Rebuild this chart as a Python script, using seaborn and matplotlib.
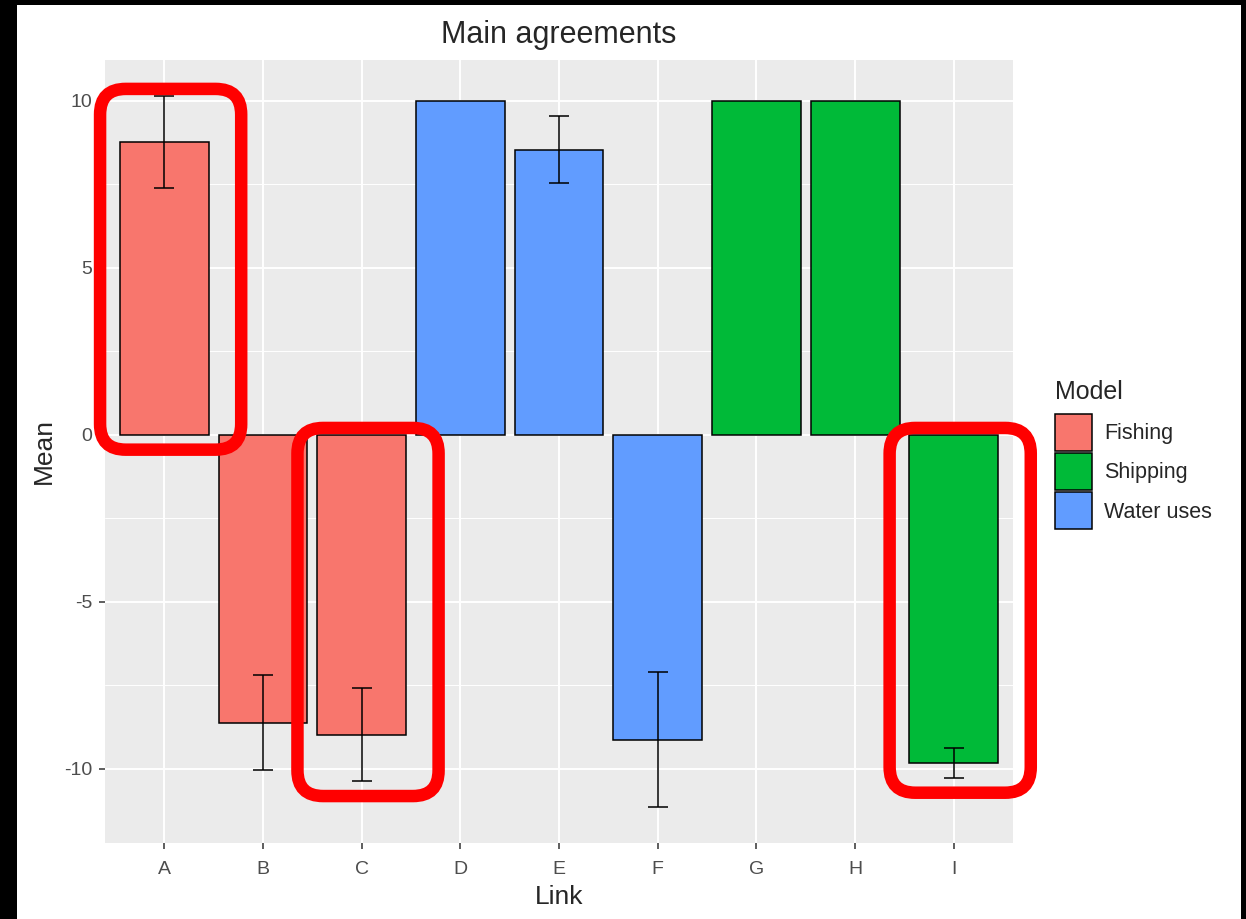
import numpy as np
import pandas as pd
import seaborn as sns
import matplotlib.pyplot as plt
from matplotlib.patches import Patch, FancyBboxPatch, Rectangle
from matplotlib.ticker import MultipleLocator

sns.set_style("darkgrid", {"axes.facecolor": "#EBEBEB", "grid.color": "white"})
plt.rcParams['font.family'] = ['Liberation Sans', 'DejaVu Sans']
plt.rcParams['axes.unicode_minus'] = False

# data
links = ["A", "B", "C", "D", "E", "F", "G", "H", "I"]
models = ["Fishing", "Fishing", "Fishing", "Water uses", "Water uses", "Water uses",
          "Shipping", "Shipping", "Shipping"]
means = [8.77, -8.62, -8.98, 10.0, 8.53, -9.13, 10.0, 10.0, -9.82]
errs = [1.38, 1.41, 1.39, np.nan, 1.0, 2.03, np.nan, np.nan, 0.45]
model_order = ["Fishing", "Shipping", "Water uses"]
colors = ["#F8766D", "#00BA38", "#619CFF"]
highlight = ["A", "C", "I"]

df = pd.DataFrame({"Link": links, "Model": models, "Mean": means, "err": errs})

fig = plt.figure(figsize=(12.46, 9.19), dpi=100, facecolor="black")
# white canvas inside the black screenshot border
fig.patches.append(Rectangle((17 / 1246, 0), (1241 - 17) / 1246, (919 - 5) / 919,
                             transform=fig.transFigure, facecolor="white",
                             edgecolor="none", zorder=-10))
ax = fig.add_axes([105 / 1246, 76 / 919, 908 / 1246, 783 / 919])

sns.barplot(data=df, x="Link", y="Mean", hue="Model", hue_order=model_order,
            palette=colors, dodge=False, width=0.9, edgecolor="black",
            linewidth=1.1, saturation=1, legend=False, ax=ax)

# error bars
pos = np.arange(len(links))
ok = df["err"].notna().values
ax.errorbar(pos[ok], df["Mean"][ok], yerr=df["err"][ok], fmt="none",
            ecolor="black", elinewidth=1.1, capsize=7, capthick=1.1, zorder=5)

ax.set_xlim(-0.6, len(links) - 0.4)
lo = np.nanmin(df["Mean"] - df["err"].fillna(0))
hi = np.nanmax(df["Mean"] + df["err"].fillna(0))
pad = (hi - lo) * 0.05
ax.set_ylim(lo - pad, hi + pad)

ax.yaxis.set_major_locator(MultipleLocator(5))
ax.yaxis.set_minor_locator(MultipleLocator(2.5))
ax.grid(which="major", color="white", linewidth=1.4)
ax.grid(which="minor", axis="y", color="white", linewidth=0.7)
ax.set_axisbelow(True)
for s in ax.spines.values():
    s.set_visible(False)
ax.tick_params(axis="both", which="major", bottom=True, left=True, length=4, width=1.1,
               color="#333333", labelsize=14, labelcolor="#4D4D4D", pad=5)
ax.tick_params(axis="x", which="major", pad=9)
ax.tick_params(axis="y", which="minor", length=0)
ax.set_xlabel("Link", fontsize=19, labelpad=5)
ax.set_ylabel("Mean", fontsize=19, labelpad=6)
ax.set_title("Main agreements", fontsize=22, pad=12)

# red highlight boxes
for name in highlight:
    i = links.index(name)
    m = df["Mean"][i]
    e = 0 if np.isnan(df["err"][i]) else df["err"][i]
    y0 = min(0, m - e) - 0.45
    y1 = max(0, m + e) + 0.2
    box = FancyBboxPatch((i - 0.65, y0), 1.43, y1 - y0,
                         boxstyle="round,pad=0,rounding_size=0.26",
                         mutation_aspect=2.95, facecolor="none",
                         edgecolor="#FF0000", linewidth=9, clip_on=False, zorder=10)
    ax.add_patch(box)

handles = [Patch(facecolor=c, edgecolor="black", linewidth=1.1) for c in colors]
leg = fig.legend(handles, model_order, title="Model", loc="upper left",
                 bbox_to_anchor=(1046 / 1246, 1 - 371 / 919), frameon=False,
                 fontsize=15.5, title_fontsize=18, handlelength=1.75, handleheight=2.27,
                 labelspacing=0.1, handletextpad=0.55, borderaxespad=0)
leg._legend_box.align = "left"
leg._legend_box.sep = 7.5

fig.savefig("out.png", dpi=100, facecolor=fig.get_facecolor())
